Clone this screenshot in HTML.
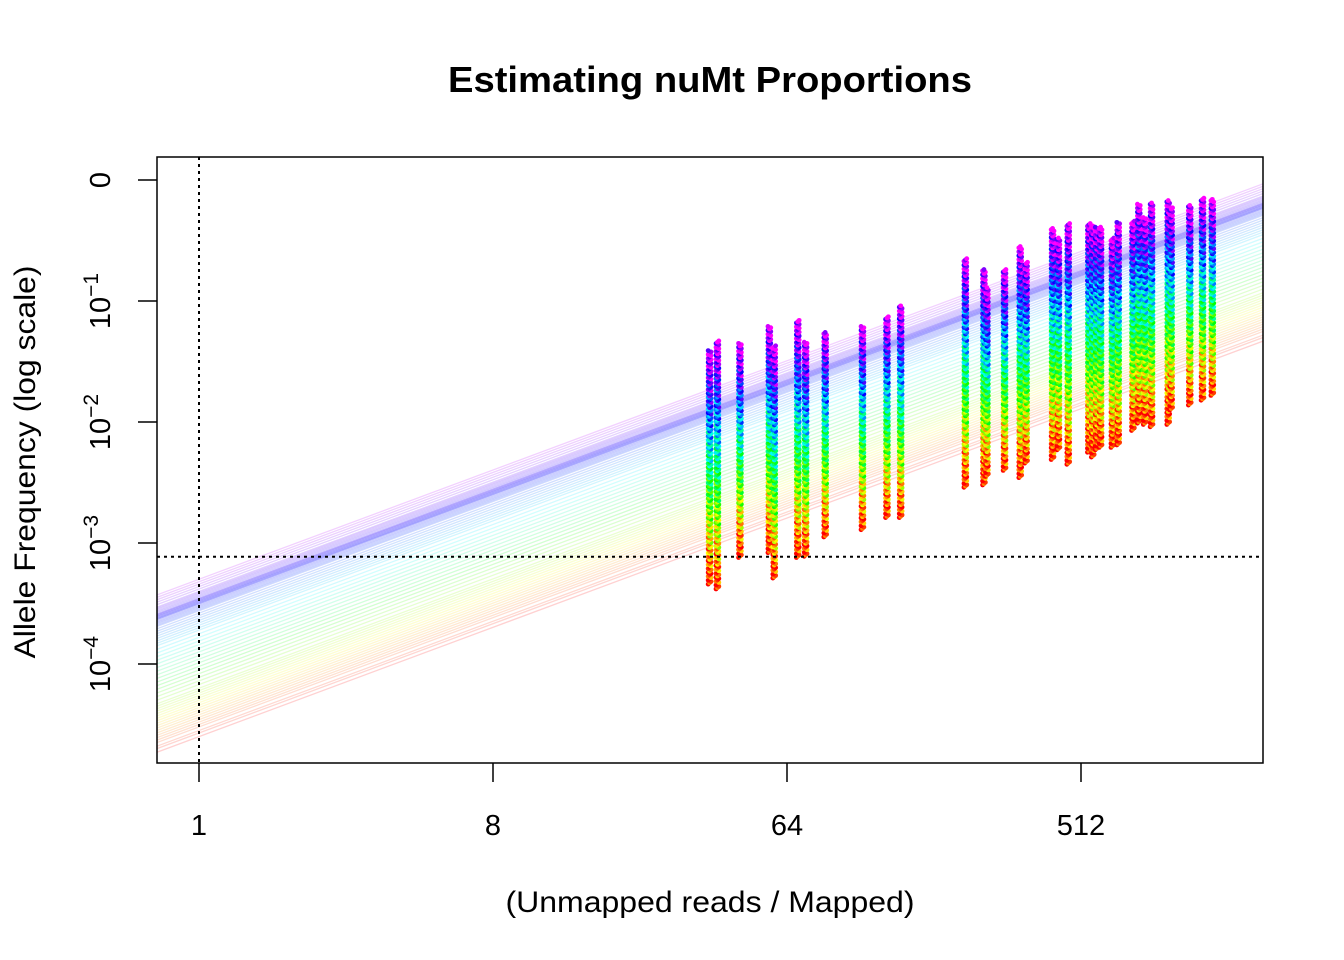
<!DOCTYPE html>
<html><head><meta charset="utf-8"><style>
html,body{margin:0;padding:0;background:#fff;}
svg{display:block;font-family:"Liberation Sans",Arial,sans-serif;}
</style></head><body>
<svg id="chart" width="1344" height="960" viewBox="0 0 1344 960" xmlns="http://www.w3.org/2000/svg">
<rect width="1344" height="960" fill="#fff"/>
<text x="710" y="92" font-size="36" font-weight="bold" text-anchor="middle" textLength="524" lengthAdjust="spacingAndGlyphs">Estimating nuMt Proportions</text>
<defs><clipPath id="pc"><rect x="157" y="157" width="1106" height="606"/></clipPath></defs>
<g id="lines" clip-path="url(#pc)"></g>
<g id="points" clip-path="url(#pc)"></g>
<g id="refs"></g>
<rect x="157" y="157" width="1106" height="606" fill="none" stroke="#000" stroke-width="1.5"/>
<g id="axes"></g>
<text x="710" y="912" font-size="30" text-anchor="middle" textLength="409" lengthAdjust="spacingAndGlyphs">(Unmapped reads / Mapped)</text>
<text transform="translate(35,462) rotate(-90)" font-size="30" text-anchor="middle" textLength="393" lengthAdjust="spacingAndGlyphs">Allele Frequency (log scale)</text>
</svg>
<script>
// ---- data ----
const xTickValues = [1, 8, 64, 512];
const xTickLabels = ["1", "8", "64", "512"];
const yTickExponents = [0, -1, -2, -3, -4];
const yTickLabels = ["0", "10", "10", "10", "10"];
const yTickSups = ["", "\u22121", "\u22122", "\u22123", "\u22124"];
const refFreq = 7.7e-4;
const refRatio = 1;
// intercepts (log10 allele freq at ratio = 1) of the fitted lines
const lineIntercepts = [-4.60,-4.57,-4.55,-4.52,-4.50,-4.48,-4.46,-4.44,-4.42,-4.40,-4.38,-4.36,-4.34,-4.32,-4.30,-4.28,-4.26,-4.24,-4.22,-4.20,-4.17,-4.14,-4.11,-4.08,-4.05,-4.02,-3.99,-3.96,-3.93,-3.90,-3.87,-3.84,-3.81,-3.78,-3.75,-3.72,-3.70,-3.68,-3.66,-3.64,-3.62,-3.60,-3.58,-3.56,-3.55,-3.54,-3.53,-3.52,-3.51,-3.50,-3.50,-3.49,-3.49,-3.48,-3.48,-3.47,-3.47,-3.46,-3.46,-3.45,-3.44,-3.43,-3.42,-3.41,-3.40,-3.38,-3.36,-3.34,-3.32,-3.30];
// sample columns: log2 ratio, top and bottom log10 allele frequency
const colLog2 = [5.21,5.29,5.52,5.82,5.87,6.11,6.19,6.39,6.77,7.02,7.16,7.82,8.01,8.04,8.22,8.38,8.44,8.71,8.77,8.87,9.08,9.12,9.16,9.20,9.32,9.38,9.53,9.59,9.65,9.72,9.89,9.92,10.11,10.24,10.34];
const colTop = [-1.41,-1.33,-1.35,-1.21,-1.37,-1.16,-1.34,-1.26,-1.21,-1.13,-1.04,-0.65,-0.74,-0.89,-0.74,-0.55,-0.68,-0.40,-0.48,-0.36,-0.36,-0.38,-0.39,-0.39,-0.48,-0.35,-0.34,-0.20,-0.31,-0.19,-0.17,-0.23,-0.21,-0.15,-0.16];
const colBottom = [-3.34,-3.38,-3.12,-3.08,-3.29,-3.12,-3.11,-2.95,-2.89,-2.79,-2.79,-2.54,-2.52,-2.45,-2.40,-2.46,-2.34,-2.31,-2.23,-2.35,-2.25,-2.29,-2.23,-2.21,-2.21,-2.19,-2.07,-2.01,-2.02,-2.04,-2.02,-1.90,-1.86,-1.82,-1.78];

// ---- scales ----
const NS = "http://www.w3.org/2000/svg";
const X0 = 199, XPER = 98;   // px per log2 unit
const Y0 = 180, YPER = 121;  // px per decade
const xs = l2 => X0 + l2 * XPER;
const ys = l10 => Y0 - l10 * YPER;
function mk(tag, attrs, parent){const e=document.createElementNS(NS,tag);for(const k in attrs)e.setAttribute(k,attrs[k]);parent.appendChild(e);return e;}

// lines
const gl = document.getElementById('lines');
const xl = (157 - X0)/XPER, xr = (1263 - X0)/XPER;
lineIntercepts.forEach(c => {
  const hue = Math.max(0, Math.min(300, (c + 4.6) / 1.1 * 240));
  const l = mk('line', {x1: xs(xl), y1: ys(c + xl*Math.log10(2)), x2: xs(xr), y2: ys(c + xr*Math.log10(2)),
    stroke: `hsl(${hue},100%,55%)`, 'stroke-opacity': 0.2, 'stroke-width': 1.3}, gl);
  
  
});

// points
const gp = document.getElementById('points');
colLog2.forEach((lx, i) => {
  const top = ys(colTop[i]), bot = ys(colBottom[i]);
  const n = Math.max(2, Math.round((bot - top) / 1.3));
  const g = mk('g', {}, gp);
  
  
  for (let j = 0; j <= n; j++) {
    const f = j / n;
    const y = bot - f * (bot - top);
    const hue = Math.max(0, Math.min(300, f * 300 + ((j * 7 % 9) - 4) * 10));
    const dx = ((j % 3) - 1) * 1.4;
    mk('circle', {cx: xs(lx) + dx, cy: y, r: 2.4, fill: `hsl(${hue},100%,50%)`}, g);
  }
});

// reference dotted lines
const gr = document.getElementById('refs');
const hl = mk('line', {x1: 157, x2: 1263, y1: ys(Math.log10(refFreq)), y2: ys(Math.log10(refFreq)), stroke: '#000', 'stroke-width': 2, 'stroke-dasharray': '3,4'}, gr);


const vl = mk('line', {x1: xs(Math.log2(refRatio)), x2: xs(Math.log2(refRatio)), y1: 157, y2: 763, stroke: '#000', 'stroke-width': 2, 'stroke-dasharray': '3,4'}, gr);



// axes
const ga = document.getElementById('axes');
xTickValues.forEach((v, i) => {
  const x = xs(Math.log2(v));
  const t = mk('line', {x1: x, x2: x, y1: 763, y2: 782, stroke: '#000', 'stroke-width': 1.5}, ga);
  
  
  const tx = mk('text', {x: x, y: 835, 'font-size': 29, 'text-anchor': 'middle'}, ga);
  tx.textContent = xTickLabels[i];
  
  
});
yTickExponents.forEach((e, i) => {
  const y = ys(e);
  const t = mk('line', {x1: 138, x2: 157, y1: y, y2: y, stroke: '#000', 'stroke-width': 1.5}, ga);
  
  
  const tx = mk('text', {transform: `translate(110,${y}) rotate(-90)`, 'font-size': 29, 'text-anchor': 'middle'}, ga);
  
  
  const base = document.createElementNS(NS, 'tspan');
  base.textContent = yTickLabels[i];
  tx.appendChild(base);
  if (yTickSups[i]) {
    const s = document.createElementNS(NS, 'tspan');
    s.setAttribute('font-size', 21);
    s.setAttribute('dy', -12);
    s.textContent = yTickSups[i];
    tx.appendChild(s);
  }
});
</script>
</body></html>
